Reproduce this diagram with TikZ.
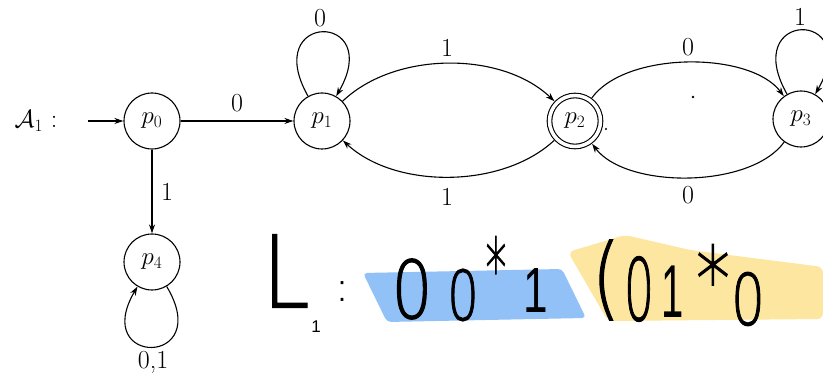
\documentclass[tikz,border=0pt]{standalone}
\usepackage{fontspec}
\newfontfamily\hand{DejaVu Sans ExtraLight}[BoldFont={DejaVu Sans ExtraLight},BoldFeatures={FakeBold=1.5}]
\newfontfamily\handb{Liberation Sans}
\usetikzlibrary{arrows.meta}
\definecolor{hlblue}{HTML}{92C1F8}
\definecolor{hlyellow}{HTML}{FDE6A0}
\newcommand\hwc[3]{{\hand\bfseries\fontsize{#1}{#1}\selectfont\scalebox{#2}[1]{#3}}}
\newcommand\hwo[4]{{\handb\fontsize{#1}{#1}\selectfont\scalebox{#2}[#3]{#4}}}
\begin{document}
\begin{tikzpicture}[x=1pt,y=1pt,
  state/.style={circle,draw,line width=1.1pt,minimum size=56pt,inner sep=0pt,font=\fontsize{26}{30}\selectfont},
  accstate/.style={state,double,double distance=3.5pt,minimum size=51pt,outer sep=3pt},
  arr/.style={line width=1.1pt,-{Stealth[length=9pt,width=6pt]}},
  lbl/.style={font=\fontsize{26}{30}\selectfont,inner sep=0pt},
  hw/.style={inner sep=0pt}]
\useasboundingbox (0,0) rectangle (823,385);
\fill[white] (0,0) rectangle (823,385);
% highlights
\fill[hlblue, rounded corners=4pt] (363,112) -- (562,116) -- (586,67) -- (387,63) -- cycle;
\fill[hlyellow, rounded corners=6pt] (568,133) -- (625,150) -- (690,135) -- (823,118) -- (823,66) -- (608,64) -- cycle;
% states
\node[state] (p0) at (152,264) {$p_0$};
\node[state] (p1) at (322,264) {$p_1$};
\node[accstate] (p2) at (575,264) {$p_2$};
\node[state] (p3) at (801,266) {$p_3$};
\node[state] (p4) at (152,123) {$p_4$};
\node[lbl] (A) at (36,264) {$\mathcal{A}_1$ :};
\coordinate (init) at (88,264);
% edges
\draw[arr] (init) -- (p0);
\draw[arr] (p0) -- (p1);
\node[lbl] (l01) at (237,282) {0};
\draw[arr] (p0) -- (p4);
\node[lbl] (l04) at (167,193) {1};
\draw[arr] (p1) .. controls (395,334) and (502,334) .. (p2);
\node[lbl] (l12) at (447,337) {1};
\draw[arr] (p2) .. controls (502,196) and (395,196) .. (p1);
\node[lbl] (l21) at (447,188) {1};
\draw[arr] (p2) .. controls (626,334) and (750,334) .. (p3);
\node[lbl] (l23) at (688,338) {0};
\draw[arr] (p3) .. controls (750,196) and (626,196) .. (p2);
\node[lbl] (l32) at (688,190) {0};
\draw[arr] (p1) .. controls (260,374) and (385,374) .. (p1);
\node[lbl] (l11) at (320,367) {0};
\draw[arr] (p3) .. controls (739,376) and (864,376) .. (p3);
\node[lbl] (l33) at (800,368) {1};
\draw[arr] (p4) .. controls (215,18) and (90,18) .. (p4);
\node[lbl] (l44) at (153,23) {0,1};
% specks
\fill (693,288) circle (1.3pt);
\fill (606,256) circle (1.1pt);
% handwriting
\node[hw] (hL) at (286,114) {\hwc{100}{0.85}{L}};
\node[hw] (hsub) at (316,58) {\hwo{17}{1}{1}{1}};
\node[hw] (hcol) at (342,94) {\hwc{40}{1}{:}};
\node[hw] (h0a) at (412,96) {\hwc{80}{0.8}{0}};
\node[hw] (h0b) at (463,90) {\hwc{69}{0.72}{0}};
\node[hw,anchor=north] (hsa) at (496,149) {\hwc{83}{0.5}{*}};
\node[hw] (h1a) at (536,94) {\hwo{52}{0.85}{1.23}{1}};
\node[hw] (hpar) at (606,105) {\hwc{90}{0.8}{(}};
\node[hw] (h0c) at (639,96) {\hwc{86}{0.55}{0}};
\node[hw] (h1b) at (673,93) {\hwo{50}{0.8}{1.5}{1}};
\node[hw,anchor=north] (hsb) at (713,141) {\hwc{90}{0.75}{*}};
\node[hw] (h0d) at (748,86) {\hwc{71}{0.75}{0}};
\end{tikzpicture}
\end{document}
